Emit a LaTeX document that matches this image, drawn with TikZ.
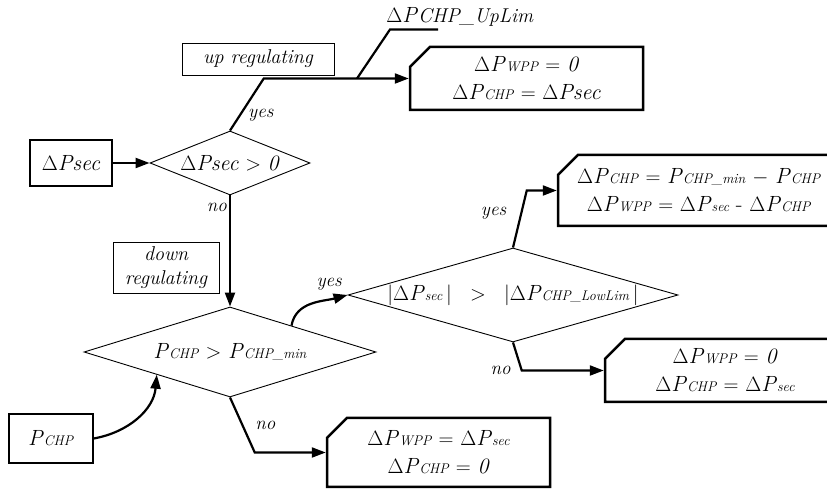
\documentclass[tikz,border=0pt]{standalone}
\usepackage{amsmath}
\usepackage{tikz}
\usetikzlibrary{shapes.geometric, shapes.misc, arrows.meta, calc}

\newcommand{\dP}[1]{$\Delta$\textit{P}{\fontsize{14}{16}\selectfont\textit{#1}}}
\newcommand{\pP}[1]{\textit{P}{\fontsize{14}{16}\selectfont\textit{#1}}}
\newcommand{\dPsec}{$\Delta$\textit{Psec}}

\begin{document}
\begin{tikzpicture}[x=1pt, y=1pt, >={Triangle[length=14pt, width=10pt]},
    eq/.style={font=\fontsize{22}{28}\selectfont, align=center},
    lbl/.style={font=\fontsize{19}{22}\selectfont\itshape, inner sep=2pt},
    inbox/.style={draw, line width=1.3pt, eq, inner sep=0pt},
    tagbox/.style={draw, line width=0.9pt, font=\fontsize{20}{24}\selectfont\itshape, align=center, inner sep=0pt},
    decision/.style={diamond, draw, line width=0.9pt, inner sep=0pt},
    result/.style={chamfered rectangle, chamfered rectangle corners=north west, chamfered rectangle xsep=17pt,
        draw, line width=2.5pt, eq, inner sep=0pt},
    flow/.style={->, line width=2.2pt},
    conn/.style={line width=2.2pt}]
    \useasboundingbox (0,0) rectangle (827,489);
    \clip (0,0) rectangle (827,489);

    % Secondary power dispatch between CHP and WPP
    \node (sec) at (71,326) [inbox, minimum width=82pt, minimum height=46pt] {\dPsec};
    \node (d1) at (230,326) [decision, minimum width=160pt, minimum height=64pt] {};
    \node (d1txt) at (d1) [eq] {\dPsec{} $>$ \textit{0}};
    \node (d2) at (230,137) [decision, minimum width=292pt, minimum height=90pt] {};
    \node (d2txt) at (d2) [eq] {\pP{CHP} $>$ \pP{CHP\_min}};
    \node (d3) at (513,194) [decision, minimum width=330pt, minimum height=94pt] {};
    \node (d3txt) at (d3) [eq] {$|$\dP{sec}\,$|$ $\;\;>\;\;$ $|$\dP{CHP\_LowLim}\,$|$};
    \node (pchp) at (51,50.5) [inbox, minimum width=84pt, minimum height=49pt] {\pP{CHP}};

    \node (up) at (258,430) [tagbox, minimum width=152pt, minimum height=32pt] {up regulating};
    \node (down) at (166,221.5) [tagbox, minimum width=106pt, minimum height=51pt] {down\\regulating};
    \node (uplim) at (460,472) [eq] {$\Delta$\textit{P}{\fontsize{20}{22}\selectfont\textit{CHP\_UpLim}}};

    \node (r1) at (526.5,410.5) [result, minimum width=233pt, minimum height=63pt]
        {\dP{WPP} $=$ \textit{0}\\ \dP{CHP} $=$ \dPsec};
    \node (r2) at (699,298.5) [result, minimum width=282pt, minimum height=71pt]
        {\dP{CHP} $=$ \pP{CHP\_min} $-$ \pP{CHP}\\ \dP{WPP} $=$ \dP{sec} - \dP{CHP}};
    \node (r3) at (725,118.5) [result, minimum width=240pt, minimum height=63pt]
        {\dP{WPP} $=$ \textit{0}\\ \dP{CHP} $=$ \dP{sec}};
    \node (r4) at (438.5,36.5) [result, minimum width=223pt, minimum height=69pt]
        {\dP{WPP} $=$ \dP{sec}\\ \dP{CHP} $=$ \textit{0}};

    \draw [flow] (sec) -- (d1);
    \draw [flow] (d1.north) -- node [lbl, right=5pt, pos=0.3] {yes} ([xshift=-145pt]r1.west) -- (r1.west);
    \coordinate (ul) at (357,410.5);
    \draw [conn] (ul) -- ++(33,49) -- ++(48,0);
    \draw [flow] (d1) -- node [lbl, left, pos=0.11] {no} (d2);
    \draw [flow] (pchp.east) to [out=10, in=-95] (d2.south west);
    \draw [flow] ($(d2.north)!0.42!(d2.east)$) to [out=80, in=195] node [lbl, above=6pt, pos=0.75] {yes} (d3.west);
    \draw [flow] (d3.north) -- node [lbl, left=12pt, pos=0.6] {yes} ([xshift=-30pt]r2.west) -- (r2.west);
    \draw [flow] (d3.south) -- ([xshift=-82pt]r3.west) node [lbl, left=8pt] {no} -- (r3.west);
    \draw [flow] (d2.south) -- node [lbl, right=10pt] {no} ([xshift=-71pt]r4.west) -- (r4.west);
\end{tikzpicture}
\end{document}
